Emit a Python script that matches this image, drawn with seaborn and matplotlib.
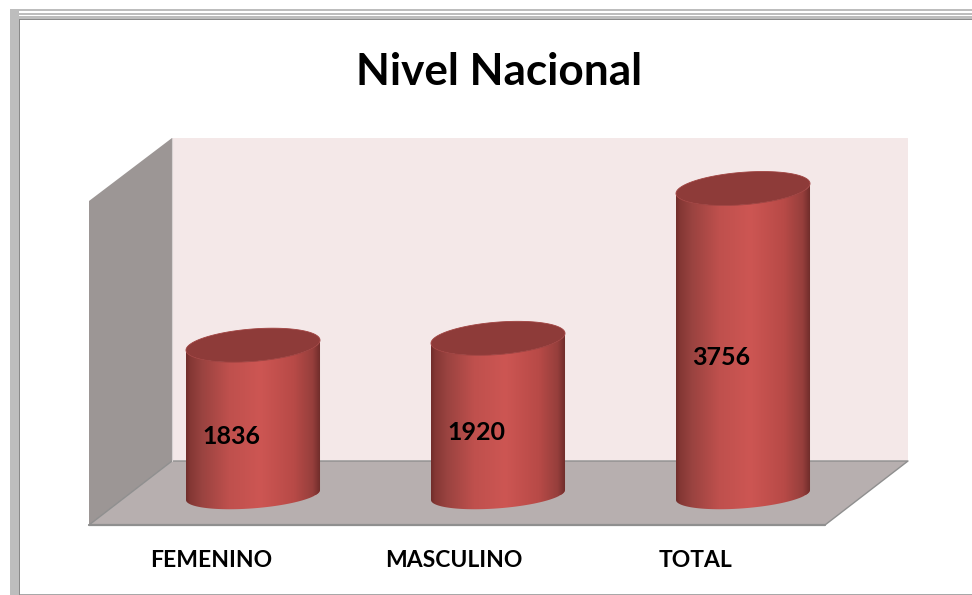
import numpy as np
import seaborn as sns
import matplotlib
matplotlib.use('Agg')
import matplotlib.pyplot as plt
from matplotlib.colors import LinearSegmentedColormap
from matplotlib.patches import Polygon, Rectangle
from matplotlib.path import Path
from matplotlib.transforms import ScaledTranslation

categorias = ['FEMENINO', 'MASCULINO', 'TOTAL']
valores = [1836, 1920, 3756]
titulo = 'Nivel Nacional'

sns.set_theme(style='white')
plt.rcParams['font.family'] = ['Lato', 'DejaVu Sans']

W, H = 972, 595
fig = plt.figure(figsize=(W / 100, H / 100), dpi=100, facecolor='white')

# fondo en pixeles: marco de la captura y paredes del grafico 3D
bg = fig.add_axes([0, 0, 1, 1])
bg.set_xlim(0, W)
bg.set_ylim(H, 0)
bg.axis('off')

bg.add_patch(Rectangle((10, 9), 8.5, 586, fc='#bdbdbd', ec='none'))
bg.add_patch(Rectangle((10, 9), 962, 2.2, fc='#bdbdbd', ec='none'))
bg.add_patch(Rectangle((12, 12.6), 960, 2.4, fc='#bdbdbd', ec='none'))
bg.add_patch(Rectangle((16, 16), 956, 2.6, fc='#bdbdbd', ec='none'))
bg.add_patch(Rectangle((18.5, 18.5), 954, 1.1, fc='#8a8a8a', ec='none'))
bg.add_patch(Rectangle((18.5, 18.5), 1.1, 577, fc='#8a8a8a', ec='none'))
bg.add_patch(Rectangle((19.6, 593.6), 953, 1.2, fc='#a8a8a8', ec='none'))

bg.add_patch(Polygon([(172, 138), (908, 138), (908, 461), (172, 461)], fc='#f4e8e8', ec='none'))
bg.add_patch(Polygon([(89, 201), (172, 138), (172, 461), (89, 525)], fc='#9c9695', ec='none'))
bg.add_patch(Polygon([(89, 525), (172, 461), (908, 461), (825, 525)], fc='#b7afaf', ec='none'))
bg.plot([172, 908, 825, 89, 172], [461, 461, 525, 525, 461], color='#8f8f8f', lw=1.0)
bg.plot([89, 825], [525, 525], color='#8f8f8f', lw=1.6)
bg.plot([172, 172], [138, 461], color='#d9d3d3', lw=0.8)

# eje de datos: 1 unidad = 0.0816 px
ax = fig.add_axes([130.5 / W, (H - 525) / H, 735 / W, 387 / H])
ax.patch.set_visible(False)
sns.barplot(x=categorias, y=valores, color='#bc4e4b', saturation=1, width=0.547, ax=ax)
ax.set_xlabel('')
ax.set_ylabel('')
ax.set_yticks([])
sns.despine(ax=ax, left=True, bottom=True)

degradado = LinearSegmentedColormap.from_list('cilindro', [
    (0.00, '#702d2b'), (0.03, '#843734'), (0.12, '#9a4340'), (0.32, '#bf504d'),
    (0.55, '#cd5653'), (0.80, '#b84a47'), (0.94, '#963f3c'), (1.00, '#6c2b29')])
franja = np.linspace(0, 1, 256).reshape(1, -1)

alto_tapa = 199
alto_base = 164
inclinacion = 61


def elipse(xc, ancho, y, t, alto):
    return np.column_stack([xc + ancho / 2 * np.cos(t),
                            y + alto * np.sin(t) + inclinacion * np.cos(t)])


for barra, valor in zip(ax.patches, valores):
    x0 = barra.get_x()
    ancho = barra.get_width()
    xc = x0 + ancho / 2
    t_bajo = np.linspace(np.pi, 2 * np.pi, 80)
    lado = np.vstack([elipse(xc, ancho, 0, t_bajo, alto_base),
                      elipse(xc, ancho, valor, t_bajo[::-1], alto_tapa)])
    camino = Path(np.vstack([lado, lado[0]]), closed=True)
    barra.set_clip_path(camino, ax.transData)
    img = ax.imshow(franja, cmap=degradado, aspect='auto', zorder=3,
                    extent=[x0, x0 + ancho, -368, valor + 300])
    img.set_clip_path(camino, ax.transData)
    tapa = elipse(xc, ancho, valor, np.linspace(0, 2 * np.pi, 160), alto_tapa)
    ax.add_patch(Polygon(tapa, closed=True, fc='#8e3b39', ec='#a04341', lw=0.6, zorder=4))
    ax.annotate(str(valor), (xc, valor / 2), xytext=(-21.5 * 0.72, -16 * 0.72),
                textcoords='offset points', ha='center', va='center',
                fontsize=18, fontweight='bold', color='black', zorder=5)

ax.set_xlim(-0.5, 2.5)
ax.set_ylim(-368, 4375)

# las etiquetas del eje van corridas a la izquierda por la perspectiva
ax.tick_params(axis='x', length=0, pad=17.7)
corrimientos = [-42, -44, -48]
for etiqueta, dx in zip(ax.get_xticklabels(), corrimientos):
    etiqueta.set_transform(etiqueta.get_transform() + ScaledTranslation(dx / 100, 0, fig.dpi_scale_trans))
    etiqueta.set_fontsize(16.5)
    etiqueta.set_fontweight('bold')
    etiqueta.set_color('black')

fig.text(499 / W, 1 - 72 / H, titulo, ha='center', va='center',
         fontsize=31.8, fontweight='bold', color='black')

fig.savefig('out.png', dpi=100)
